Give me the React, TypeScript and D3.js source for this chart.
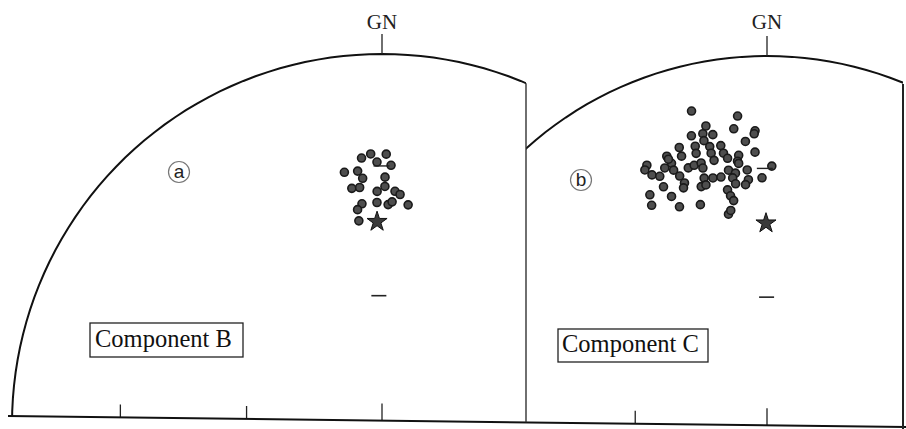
import React from 'react';
import * as d3 from 'd3';

// site mean directions [declination, inclination]
const sitesB: [number, number][] = [
  [355.6, 28.7], [357.6, 27.8], [0.9, 27.9], [358.9, 29.9], [2.0, 30.7],
  [351.5, 31.8], [354.5, 31.9], [355.5, 33.8], [0.7, 33.7], [352.7, 36.0],
  [354.6, 36.0], [358.8, 37.2], [0.7, 36.0], [3.2, 37.1], [4.5, 37.8],
  [6.8, 40.1], [354.8, 40.0], [353.5, 41.3], [358.7, 39.9], [1.6, 40.4],
  [2.6, 39.7], [353.5, 44.0],
];

const sitesC: [number, number][] = [
  [346.1, 13.8], [354.4, 17.4], [348.1, 18.8], [353.4, 20.8], [357.6, 21.8],
  [357.4, 22.6], [344.9, 20.5], [347.2, 20.7], [347.1, 22.6], [349.1, 21.5],
  [355.5, 24.5], [341.9, 22.6], [345.1, 23.5], [344.9, 25.4], [348.0, 24.5],
  [348.0, 26.3], [348.3, 28.3], [350.3, 24.8], [350.6, 26.9], [351.3, 28.4],
  [357.4, 27.5], [353.8, 28.0], [353.4, 29.5], [338.9, 23.7], [339.3, 25.9],
  [337.6, 26.4], [339.2, 27.8], [339.0, 24.6], [334.4, 23.8], [333.6, 24.7],
  [334.5, 26.7], [341.8, 25.0], [342.4, 28.5], [343.8, 28.3], [345.4, 28.2],
  [345.5, 29.6], [340.0, 29.8], [340.5, 31.9], [339.9, 33.0], [345.2, 32.2],
  [347.2, 32.7], [349.1, 32.9], [344.0, 34.1], [345.2, 34.0], [351.1, 31.5],
  [352.6, 32.5], [353.6, 30.1], [351.8, 33.6], [352.3, 35.2], [355.4, 32.0],
  [355.5, 34.5], [354.7, 35.7], [1.1, 31.2], [358.8, 34.2], [335.7, 30.8],
  [332.1, 31.1], [336.5, 33.9], [350.1, 36.4], [350.6, 38.0], [351.2, 39.3],
  [342.5, 38.4], [331.3, 33.7], [337.3, 37.1], [349.2, 42.4], [350.0, 41.6],
  [335.9, 27.9],
];

// present field (star), overall mean (bar), reference field (dash)
const starB: [number, number] = [358.6, 44.5];
const meanB: [number, number] = [359.9, 30.9];
const dashB: [number, number] = [358.6, 61.6];
const starC: [number, number] = [359.7, 45.5];
const meanC: [number, number] = [359.5, 31.8];
const dashC: [number, number] = [359.8, 63.0];

// ticks along the west half of the E-W diameter
const tickIncs = [30, 60, 90];

const W = 906;
const H = 429;
const baseY = (x: number) => 416 + (x - 8) * 0.0123;

const panels = [
  {
    key: 'b', tag: 'a', title: 'Component B', sites: sitesB, star: starB, mean: meanB, dash: dashB,
    cx: 382, cy: 424, r: 370, x0: 0, x1: 526,
    tagX: 179, tagY: 172, box: [90, 323, 153, 34], textX: 95, textY: 347,
  },
  {
    key: 'c', tag: 'b', title: 'Component C', sites: sitesC, star: starC, mean: meanC, dash: dashC,
    cx: 767, cy: 416, r: 360, x0: 526, x1: 903,
    tagX: 581, tagY: 180, box: [558, 329, 150, 33], textX: 562, textY: 352,
  },
];

const serif = '"Liberation Serif", "Times New Roman", serif';

function Panel({ p }: { p: typeof panels[number] }) {
  const proj = d3.geoAzimuthalEqualArea()
    .rotate([0, -90])
    .clipAngle(90)
    .scale(p.r / Math.SQRT2)
    .translate([p.cx, p.cy]);
  const pt = (d: [number, number]) => proj([180 - d[0], d[1]]) as [number, number];
  const outline = d3.geoPath(proj)({ type: 'Sphere' } as any) || '';
  const top = pt([0, 0]);
  const star = d3.symbol(d3.symbolStar, 125)() || '';
  const s = pt(p.star);
  const m = pt(p.mean);
  const ds = pt(p.dash);
  const clipId = `clip-${p.key}`;
  const ticks = tickIncs.map(inc => pt([270, inc])[0]);

  return (
    <g>
      <defs>
        <clipPath id={clipId}>
          <polygon points={`${p.x0},0 ${p.x1},0 ${p.x1},${baseY(p.x1)} ${p.x0},${baseY(p.x0)}`} />
        </clipPath>
      </defs>
      <g clipPath={`url(#${clipId})`}>
        <path d={outline} fill="none" stroke="#111" strokeWidth={2} />
        {ticks.filter(x => x > p.x0 + 4 && x < p.x1 - 4).map((x, i) => (
          <line key={i} x1={x} x2={x} y1={baseY(x)} y2={baseY(x) - (Math.abs(x - p.cx) < 1 ? 17 : 13)}
            stroke="#222" strokeWidth={1.3} />
        ))}
      </g>
      {/* north tick */}
      <line x1={top[0]} x2={top[0]} y1={top[1]} y2={top[1] - 20} stroke="#222" strokeWidth={1.3} />
      <text x={top[0]} y={29} textAnchor="middle" fontFamily={serif} fontSize={21} fill="#222">GN</text>

      {p.sites.map((d, i) => {
        const [x, y] = pt(d);
        return <circle key={i} cx={x} cy={y} r={4} fill="#4e4e4e" stroke="#1a1a1a" strokeWidth={1.6} />;
      })}
      <line x1={m[0] - 8} x2={m[0] + 8} y1={m[1]} y2={m[1]} stroke="#222" strokeWidth={1.4} />
      <path d={star} transform={`translate(${s[0]},${s[1]})`} fill="#3a3a3a" stroke="#111" strokeWidth={1} />
      <line x1={ds[0] - 7.5} x2={ds[0] + 7.5} y1={ds[1]} y2={ds[1]} stroke="#222" strokeWidth={1.6} />

      <circle cx={p.tagX} cy={p.tagY} r={10.5} fill="none" stroke="#777" strokeWidth={1.2} />
      <text x={p.tagX} y={p.tagY + 6} textAnchor="middle" fontFamily="'Liberation Sans', Arial, sans-serif"
        fontSize={19} fill="#222">{p.tag}</text>

      <rect x={p.box[0]} y={p.box[1]} width={p.box[2]} height={p.box[3]} fill="#fff" stroke="#222" strokeWidth={1.3} />
      <text x={p.textX} y={p.textY} fontFamily={serif} fontSize={24.5} fill="#111">{p.title}</text>
    </g>
  );
}

export default function App() {
  const left = panels[0];
  // where the left outline meets the divider
  const dx = left.x1 - left.cx;
  const divTop = left.cy - Math.sqrt(left.r * left.r - dx * dx);
  return (
    <svg width={W} height={H} style={{ position: 'absolute', left: 0, top: 0, background: '#fff' }}>
      <rect width={W} height={H} fill="#fff" />
      {panels.map(p => <Panel key={p.key} p={p} />)}
      <line x1={8} x2={W} y1={baseY(8)} y2={baseY(W)} stroke="#111" strokeWidth={2} />
      <line x1={left.x1} x2={left.x1} y1={divTop} y2={baseY(left.x1)} stroke="#333" strokeWidth={1.4} />
      <line x1={903} x2={903} y1={84} y2={H} stroke="#222" strokeWidth={2} />
    </svg>
  );
}
